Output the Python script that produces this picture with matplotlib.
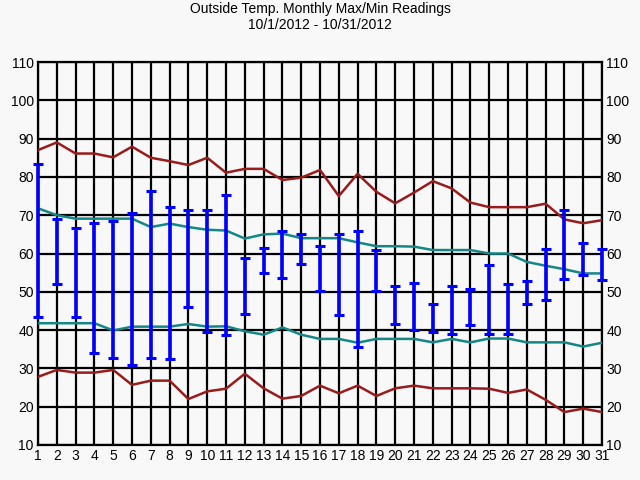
import matplotlib
matplotlib.use("Agg")
import matplotlib.pyplot as plt

days = list(range(1, 32))
day_max = [83.3, 69.1, 66.7, 68.0, 68.6, 70.7, 76.2, 72.2, 71.4, 71.3, 75.4,
           58.7, 61.5, 65.8, 65.2, 62.0, 65.2, 65.8, 60.8, 51.4, 52.4,
           46.8, 51.4, 50.8, 57.0, 52.1, 52.9, 61.2, 71.4, 62.8, 61.2]
day_min = [43.4, 52.1, 43.4, 34.0, 32.7, 30.9, 32.7, 32.4, 46.0, 39.4, 38.7,
           44.2, 55.0, 53.6, 57.3, 50.2, 44.0, 35.6, 50.2, 41.6, 40.0,
           39.5, 39.1, 41.3, 39.0, 39.0, 46.8, 47.9, 53.4, 54.3, 53.1]
record_high = [87.0, 89.0, 86.1, 86.1, 85.1, 87.9, 85.0, 84.1, 83.1, 85.0, 81.1,
               82.1, 82.1, 79.2, 79.8, 81.8, 75.0, 80.8, 76.1, 73.1, 75.9,
               78.9, 77.0, 73.3, 72.1, 72.1, 72.1, 73.0, 68.9, 67.9, 68.7]
normal_high = [71.8, 70.0, 69.1, 69.1, 69.1, 69.1, 66.9, 67.8, 66.9, 66.2, 66.0,
               63.9, 65.0, 65.2, 64.0, 64.0, 64.0, 62.9, 61.9, 61.9, 61.8,
               60.9, 60.9, 60.9, 60.0, 60.0, 57.8, 56.8, 55.9, 54.8, 54.8]
normal_low = [41.8, 41.8, 41.8, 41.8, 39.9, 40.9, 40.9, 40.9, 41.6, 40.9, 41.0,
              39.7, 38.8, 40.7, 38.8, 37.7, 37.7, 36.7, 37.7, 37.7, 37.7,
              36.8, 37.7, 36.8, 37.8, 37.8, 36.8, 36.8, 36.8, 35.7, 36.7]
record_low = [27.8, 29.6, 28.9, 28.9, 29.6, 25.7, 26.8, 26.8, 22.0, 24.0, 24.7,
              28.6, 24.8, 22.1, 22.8, 25.5, 23.5, 25.5, 22.8, 24.8, 25.5,
              24.8, 24.8, 24.8, 24.7, 23.6, 24.5, 21.8, 18.6, 19.5, 18.6]
y_ticks = list(range(10, 111, 10))

plt.rcParams['font.family'] = ['Liberation Sans', 'DejaVu Sans']
bg = '#f8f8f8'
fig = plt.figure(figsize=(6.4, 4.8), dpi=100, facecolor=bg)
ax = fig.add_axes([38/640, 1-445/480, (602-38)/640, (445-62)/480], facecolor=bg)

ax.set_xlim(1, 31)
ax.set_ylim(10, 110)
ax.set_xticks(days)
ax.set_yticks(y_ticks)
ax.grid(True, color='black', lw=1.6, zorder=0)
ax.set_axisbelow(True)
for s in ax.spines.values():
    s.set_linewidth(1.6)
    s.set_color('black')

ax.tick_params(axis='both', length=0, labelsize=10, colors='black', pad=3)
ax.tick_params(axis='y', labelleft=True, labelright=True)

red = '#991b1b'
teal = '#138786'
ax.plot(days, record_high, color=red, lw=1.8, zorder=3)
ax.plot(days, record_low, color=red, lw=1.8, zorder=3)
ax.plot(days, normal_high, color=teal, lw=1.8, zorder=3)
ax.plot(days, normal_low, color=teal, lw=1.8, zorder=3)

ax.vlines(days, day_min, day_max, color='#0000ff', lw=2.6, zorder=4, clip_on=False)
ax.plot(days, day_max, linestyle='none', marker='_', ms=6.5, mew=2.2, color='#0000ff', zorder=5, clip_on=False)
ax.plot(days, day_min, linestyle='none', marker='_', ms=6.5, mew=2.2, color='#0000ff', zorder=5, clip_on=False)

fig.text(0.5, 1-9/480, 'Outside Temp. Monthly Max/Min Readings', ha='center', va='center', fontsize=10)
fig.text(0.5, 1-25/480, '10/1/2012 - 10/31/2012', ha='center', va='center', fontsize=10)

fig.savefig('out.png', dpi=100, facecolor=bg)
